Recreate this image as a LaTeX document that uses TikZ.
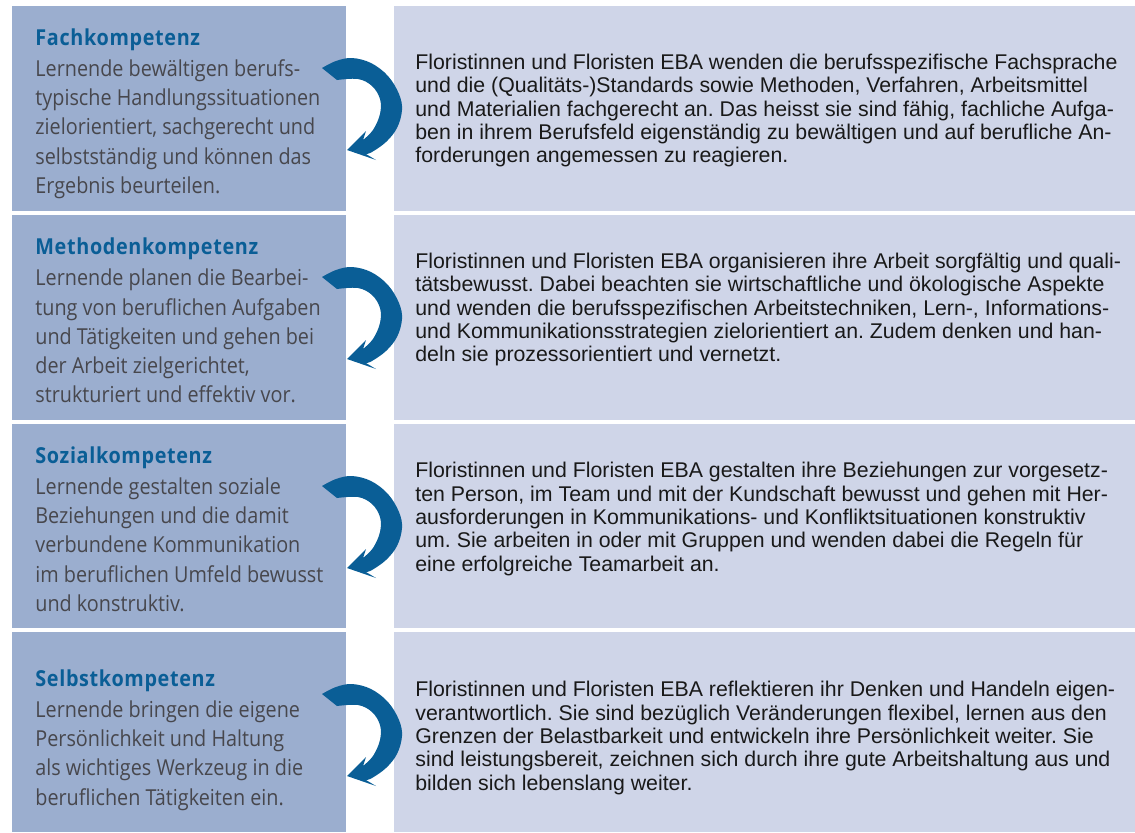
\documentclass[tikz,border=0pt]{standalone}
\usepackage{fontspec}
\setmainfont{Liberation Sans}
\newfontfamily\lernfont[FakeStretch=0.9]{Open Sans}
\usetikzlibrary{positioning}
\definecolor{kompblau}{HTML}{9BAECF}
\definecolor{floristblau}{HTML}{CFD5E8}
\definecolor{titelblau}{HTML}{0A5E96}
\definecolor{textgrau}{HTML}{47474D}
\tikzset{
    %Define style for the competence boxes
    kompbox/.style={
           rectangle,
           fill=kompblau,
           inner sep=0pt, outer sep=0pt,
           minimum width=167pt},
    floristbox/.style={
           rectangle,
           fill=floristblau,
           inner sep=0pt, outer sep=0pt,
           minimum width=370.5pt},
    % Define style for the texts
    kompText/.style={
           align=left,
           inner sep=0pt,
           anchor=west,
           text=textgrau,
           font=\lernfont\fontsize{11pt}{14.6pt}\selectfont},
    florText/.style={
           align=left,
           inner sep=0pt,
           anchor=west,
           text=black!90,
           font=\fontsize{10.65pt}{11.65pt}\selectfont},
    % Define the curved arrow between the columns
    turnarrow/.pic={
        \fill[titelblau]
            plot[smooth, tension=0.6] coordinates {(-24,-62) (-10,-55) (6,-52) (25,-57)
                (42,-70) (53,-88) (56,-104) (51,-122) (40,-136) (26,-146) (20,-148)}
            -- (30,-154) -- (1,-144) -- (20,-125)
            -- plot[smooth, tension=0.6] coordinates {(17,-134) (27,-124) (34,-108)
                (34,-93) (26,-80) (12,-73) (-9,-74)}
            -- cycle;
    }
}
\newcommand{\kompTitel}[1]{{\color{titelblau}\bfseries\addfontfeatures{LetterSpace=3}#1}}

\begin{document}
\frenchspacing
\begin{tikzpicture}[x=0.5pt, y=0.5pt]
\useasboundingbox (0,0) rectangle (1135,-832);

 %boxes
\node[kompbox, minimum height=102.5pt, anchor=north west] (fach) at (12,-6) {};
\node[kompbox, minimum height=102.5pt, below=2pt of fach] (methode) {};
\node[kompbox, minimum height=102pt, below=2pt of methode] (sozial) {};
\node[kompbox, minimum height=100pt, below=2pt of sozial] (selbst) {};

\node[floristbox, minimum height=102.5pt, right=24pt of fach] (fachflor) {};
\node[floristbox, minimum height=102.5pt, right=24pt of methode] (methodeflor) {};
\node[floristbox, minimum height=102pt, right=24pt of sozial] (sozialflor) {};
\node[floristbox, minimum height=100pt, right=24pt of selbst] (selbstflor) {};

 %arrows
\pic at (fach.north east) {turnarrow};
\pic at (methode.north east) {turnarrow};
\pic at (sozial.north east) {turnarrow};
\pic at (selbst.north east) {turnarrow};

 %left texts
\node[kompText, right=11.5pt of fach.west, yshift=-2.5pt] (fachtxt) {\kompTitel{Fachkompetenz}\\[1pt]
Lernende bewältigen berufs-\\
typische Handlungssituationen\\
zielorientiert, sachgerecht und\\
selbstständig und können das\\
Ergebnis beurteilen.};
\node[kompText, right=11.5pt of methode.west, yshift=-1.5pt] (methodetxt) {\kompTitel{Methodenkompetenz}\\[1pt]
Lernende planen die Bearbei-\\
tung von beruflichen Aufgaben\\
und Tätigkeiten und gehen bei\\
der Arbeit zielgerichtet,\\
strukturiert und effektiv vor.};
\node[kompText, right=11.5pt of sozial.west, yshift=-1.5pt] (sozialtxt) {\kompTitel{Sozialkompetenz}\\[1pt]
Lernende gestalten soziale\\
Beziehungen und die damit\\
verbundene Kommunikation\\
im beruflichen Umfeld bewusst\\
und konstruktiv.};
\node[kompText, right=11.5pt of selbst.west, yshift=-4pt] (selbsttxt) {\kompTitel{Selbstkompetenz}\\[1pt]
Lernende bringen die eigene\\
Persönlichkeit und Haltung\\
als wichtiges Werkzeug in die\\
beruflichen Tätigkeiten ein.};

 %right texts
\node[florText, right=10.5pt of fachflor.west, yshift=-1pt] (fachflortxt) {Floristinnen und Floristen EBA wenden die berufsspezifische Fachsprache\\
und die (Qualitäts-)Standards sowie Methoden, Verfahren, Arbeitsmittel\\
und Materialien fachgerecht an. Das heisst sie sind fähig, fachliche Aufga-\\
ben in ihrem Berufsfeld eigenständig zu bewältigen und auf berufliche An-\\
forderungen angemessen zu reagieren.};
\node[florText, right=10.5pt of methodeflor.west, yshift=4pt] (methodeflortxt) {Floristinnen und Floristen EBA organisieren ihre Arbeit sorgfältig und quali-\\
tätsbewusst. Dabei beachten sie wirtschaftliche und ökologische Aspekte\\
und wenden die berufsspezifischen Arbeitstechniken, Lern-, Informations-\\
und Kommunikationsstrategien zielorientiert an. Zudem denken und han-\\
deln sie prozessorientiert und vernetzt.};
\node[florText, right=10.5pt of sozialflor.west, yshift=3.5pt] (sozialflortxt) {Floristinnen und Floristen EBA gestalten ihre Beziehungen zur vorgesetz-\\
ten Person, im Team und mit der Kundschaft bewusst und gehen mit Her-\\
ausforderungen in Kommunikations- und Konfliktsituationen konstruktiv\\
um. Sie arbeiten in oder mit Gruppen und wenden dabei die Regeln für\\
eine erfolgreiche Teamarbeit an.};
\node[florText, right=10.5pt of selbstflor.west, yshift=-3pt] (selbstflortxt) {Floristinnen und Floristen EBA reflektieren ihr Denken und Handeln eigen-\\
verantwortlich. Sie sind bezüglich Veränderungen flexibel, lernen aus den\\
Grenzen der Belastbarkeit und entwickeln ihre Persönlichkeit weiter. Sie\\
sind leistungsbereit, zeichnen sich durch ihre gute Arbeitshaltung aus und\\
bilden sich lebenslang weiter.};

\end{tikzpicture}
\end{document}
